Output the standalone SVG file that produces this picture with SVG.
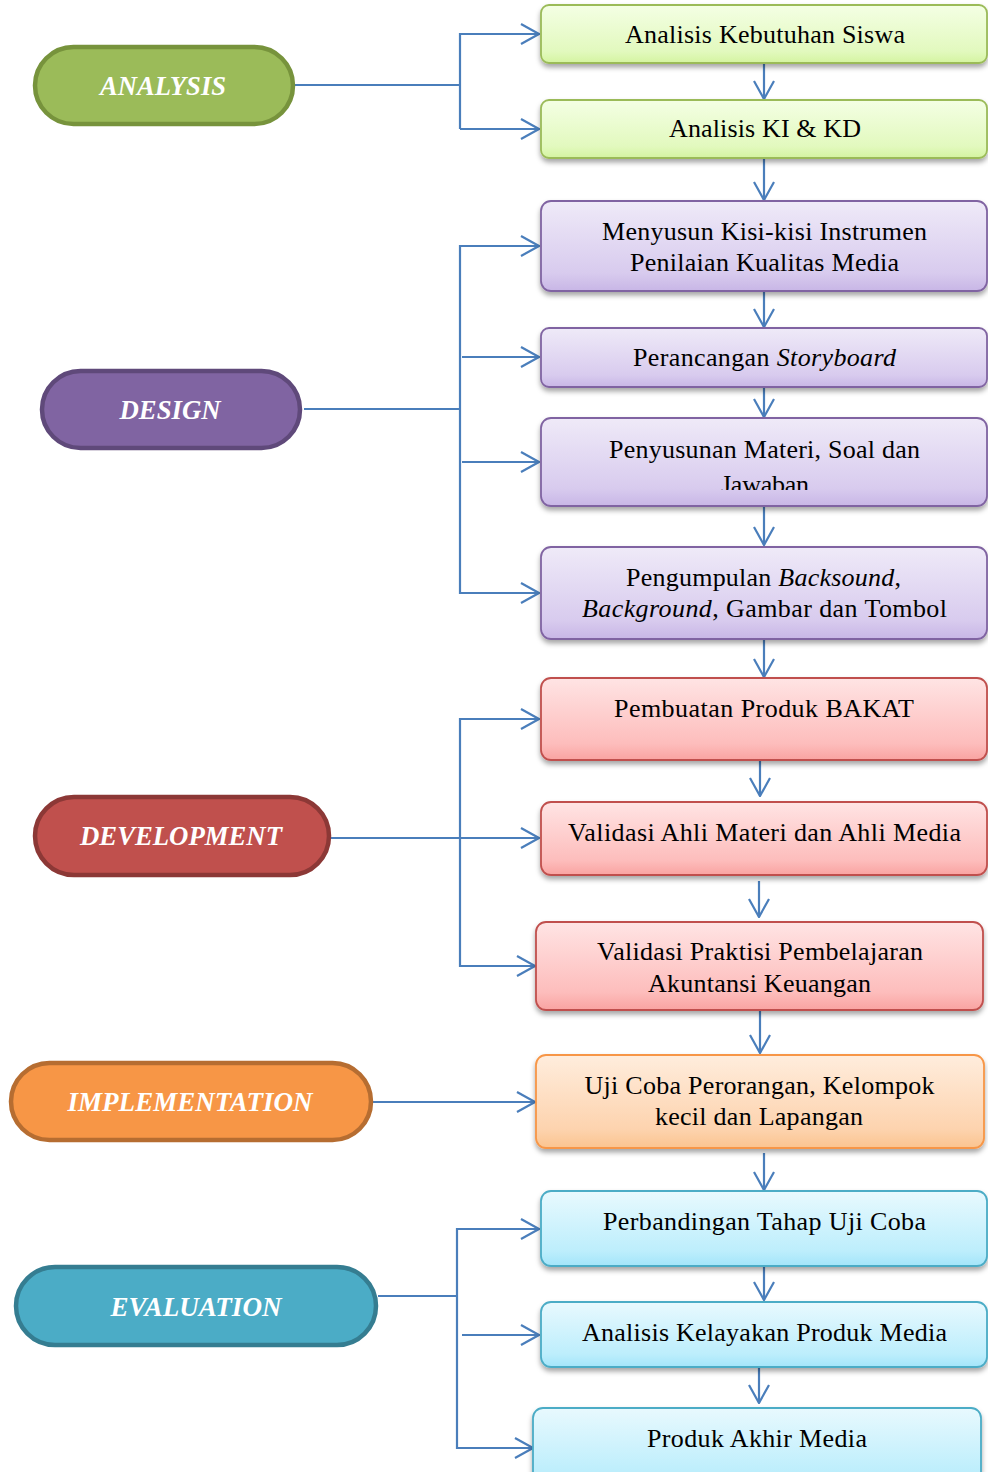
<svg xmlns="http://www.w3.org/2000/svg" width="988" height="1472" viewBox="0 0 988 1472">
<style>
.pill{stroke-width:4.5}
.pt{font-family:"Liberation Serif","Times New Roman",serif;font-size:26.5px;font-weight:bold;font-style:italic;fill:#ffffff;text-anchor:middle}
.bt{font-family:"Liberation Serif","Times New Roman",serif;font-size:26px;fill:#000000;text-anchor:middle}
.it{font-style:italic}
.box{stroke-width:1.8;filter:url(#sh)}
.ln{fill:none;stroke:#4A7EBB;stroke-width:2.2}
.ar{fill:none;stroke:#4A7EBB;stroke-width:2.2;marker-end:url(#ah)}
</style>
<defs>
<filter id="sh" x="-5%" y="-20%" width="110%" height="150%">
<feDropShadow dx="0" dy="3.5" stdDeviation="2.5" flood-color="#000000" flood-opacity="0.35"/>
</filter>
<marker id="ah" viewBox="0 0 20 22" refX="19" refY="11" markerWidth="20" markerHeight="22" markerUnits="userSpaceOnUse" orient="auto">
<path d="M1,1 L19,11 L1,21" fill="none" stroke="#4A7EBB" stroke-width="2.2"/>
</marker>
<linearGradient id="gG" x1="0" y1="0" x2="0" y2="1"><stop offset="0" stop-color="#F4FFE4"/><stop offset="0.8" stop-color="#E2F9BE"/><stop offset="1" stop-color="#D4F4A0"/></linearGradient>
<linearGradient id="gP" x1="0" y1="0" x2="0" y2="1"><stop offset="0" stop-color="#EFEAF8"/><stop offset="0.8" stop-color="#D8CBEE"/><stop offset="1" stop-color="#C8B6E6"/></linearGradient>
<linearGradient id="gR" x1="0" y1="0" x2="0" y2="1"><stop offset="0" stop-color="#FFE4E4"/><stop offset="0.8" stop-color="#FDBDBC"/><stop offset="1" stop-color="#F9A3A1"/></linearGradient>
<linearGradient id="gO" x1="0" y1="0" x2="0" y2="1"><stop offset="0" stop-color="#FFEDDD"/><stop offset="0.8" stop-color="#FDD3AE"/><stop offset="1" stop-color="#FBC48F"/></linearGradient>
<linearGradient id="gB" x1="0" y1="0" x2="0" y2="1"><stop offset="0" stop-color="#E8F9FE"/><stop offset="0.8" stop-color="#BDEEFC"/><stop offset="1" stop-color="#A3E5FA"/></linearGradient>
<clipPath id="clipJ"><rect x="541" y="418" width="447" height="72"/></clipPath>
</defs>

<g id="connectors">
<path class="ln" d="M295,85 H460 M460,33 V129"/>
<path class="ar" d="M460,34 H539"/>
<path class="ar" d="M460,129 H539"/>
<path class="ar" d="M764,63 V99"/>
<path class="ar" d="M764,158 V200"/>
<path class="ln" d="M304,409 H460 M460,245 V594"/>
<path class="ar" d="M460,246 H539"/>
<path class="ar" d="M462,357 H539"/>
<path class="ar" d="M462,462 H539"/>
<path class="ar" d="M460,593 H539"/>
<path class="ar" d="M764,291 V327"/>
<path class="ar" d="M764,387 V417"/>
<path class="ar" d="M764,506 V545"/>
<path class="ar" d="M764,639 V677"/>
<path class="ln" d="M460,718 V967"/>
<path class="ar" d="M331,838 H539"/>
<path class="ar" d="M460,719 H539"/>
<path class="ar" d="M460,966 H535"/>
<path class="ar" d="M760,760 V796"/>
<path class="ar" d="M759,881 V917"/>
<path class="ar" d="M760,1010 V1053"/>
<path class="ar" d="M373,1102 H535"/>
<path class="ar" d="M764,1153 V1190"/>
<path class="ln" d="M378,1296 H457 M457,1228 V1449"/>
<path class="ar" d="M457,1229 H539"/>
<path class="ar" d="M462,1335 H539"/>
<path class="ar" d="M457,1448 H533"/>
<path class="ar" d="M764,1266 V1300"/>
<path class="ar" d="M759,1368 V1403"/>
</g>

<g id="analysis">
<rect class="pill" x="35" y="47" width="258" height="77" rx="38.5" fill="#9BBB59" stroke="#77933C"/>
<text class="pt" x="163" y="95" textLength="126" lengthAdjust="spacingAndGlyphs">ANALYSIS</text>
</g>
<g id="design">
<rect class="pill" x="42" y="371" width="258" height="77" rx="38.5" fill="#8064A2" stroke="#5F497A"/>
<text class="pt" x="170" y="419" textLength="101" lengthAdjust="spacingAndGlyphs">DESIGN</text>
</g>
<g id="development">
<rect class="pill" x="35" y="797" width="294" height="78" rx="39" fill="#C0504D" stroke="#8C3836"/>
<text class="pt" x="181" y="845" textLength="202" lengthAdjust="spacingAndGlyphs">DEVELOPMENT</text>
</g>
<g id="implementation">
<rect class="pill" x="11" y="1063" width="360" height="77" rx="38.5" fill="#F79646" stroke="#B66D31"/>
<text class="pt" x="190" y="1111" textLength="245" lengthAdjust="spacingAndGlyphs">IMPLEMENTATION</text>
</g>
<g id="evaluation">
<rect class="pill" x="16" y="1267" width="360" height="78" rx="39" fill="#4BACC6" stroke="#357D91"/>
<text class="pt" x="196" y="1316" textLength="171" lengthAdjust="spacingAndGlyphs">EVALUATION</text>
</g>

<g id="n1">
<rect class="box" x="541" y="5" width="446" height="58" rx="8" fill="url(#gG)" stroke="#9BBB59"/>
<text class="bt" x="765" y="43" textLength="280" lengthAdjust="spacing">Analisis Kebutuhan Siswa</text>
</g>
<g id="n2">
<rect class="box" x="541" y="100" width="446" height="58" rx="8" fill="url(#gG)" stroke="#9BBB59"/>
<text class="bt" x="765" y="137" textLength="192" lengthAdjust="spacing">Analisis KI &amp; KD</text>
</g>
<g id="n3">
<rect class="box" x="541" y="201" width="446" height="90" rx="10" fill="url(#gP)" stroke="#8064A2"/>
<text class="bt" x="764.5" y="240" textLength="325" lengthAdjust="spacing">Menyusun Kisi-kisi Instrumen</text>
<text class="bt" x="764.5" y="271" textLength="269" lengthAdjust="spacing">Penilaian Kualitas Media</text>
</g>
<g id="n4">
<rect class="box" x="541" y="328" width="446" height="59" rx="8" fill="url(#gP)" stroke="#8064A2"/>
<text class="bt" x="764.5" y="366" textLength="263" lengthAdjust="spacing">Perancangan <tspan class="it">Storyboard</tspan></text>
</g>
<g id="n5">
<rect class="box" x="541" y="418" width="446" height="88" rx="10" fill="url(#gP)" stroke="#8064A2"/>
<text class="bt" x="764.5" y="458" textLength="311" lengthAdjust="spacing">Penyusunan Materi, Soal dan</text>
<text class="bt" x="765" y="493" textLength="88" lengthAdjust="spacing" clip-path="url(#clipJ)">Jawaban</text>
</g>
<g id="n6">
<rect class="box" x="541" y="547" width="446" height="92" rx="10" fill="url(#gP)" stroke="#8064A2"/>
<text class="bt" x="763.5" y="586" textLength="275" lengthAdjust="spacing">Pengumpulan <tspan class="it">Backsound</tspan>,</text>
<text class="bt" x="764.5" y="617" textLength="365" lengthAdjust="spacing"><tspan class="it">Background</tspan>, Gambar dan Tombol</text>
</g>
<g id="n7">
<rect class="box" x="541" y="678" width="446" height="82" rx="10" fill="url(#gR)" stroke="#C0504D"/>
<text class="bt" x="764" y="717" textLength="300" lengthAdjust="spacing">Pembuatan Produk BAKAT</text>
</g>
<g id="n8">
<rect class="box" x="541" y="802" width="446" height="73" rx="10" fill="url(#gR)" stroke="#C0504D"/>
<text class="bt" x="764.5" y="841" textLength="393" lengthAdjust="spacing">Validasi Ahli Materi dan Ahli Media</text>
</g>
<g id="n9">
<rect class="box" x="536" y="922" width="447" height="88" rx="10" fill="url(#gR)" stroke="#C0504D"/>
<text class="bt" x="760" y="960" textLength="326" lengthAdjust="spacing">Validasi Praktisi Pembelajaran</text>
<text class="bt" x="759.5" y="992" textLength="223" lengthAdjust="spacing">Akuntansi Keuangan</text>
</g>
<g id="n10">
<rect class="box" x="536" y="1055" width="448" height="93" rx="10" fill="url(#gO)" stroke="#F79646"/>
<text class="bt" x="759.5" y="1094" textLength="350" lengthAdjust="spacing">Uji Coba Perorangan, Kelompok</text>
<text class="bt" x="759" y="1125" textLength="208" lengthAdjust="spacing">kecil dan Lapangan</text>
</g>
<g id="n11">
<rect class="box" x="541" y="1191" width="446" height="75" rx="10" fill="url(#gB)" stroke="#4BACC6"/>
<text class="bt" x="764.5" y="1230" textLength="323" lengthAdjust="spacing">Perbandingan Tahap Uji Coba</text>
</g>
<g id="n12">
<rect class="box" x="541" y="1302" width="446" height="65" rx="10" fill="url(#gB)" stroke="#4BACC6"/>
<text class="bt" x="764.5" y="1341" textLength="365" lengthAdjust="spacing">Analisis Kelayakan Produk Media</text>
</g>
<g id="n13">
<rect class="box" x="533" y="1408" width="448" height="80" rx="10" fill="url(#gB)" stroke="#4BACC6"/>
<text class="bt" x="757" y="1447" textLength="220" lengthAdjust="spacing">Produk Akhir Media</text>
</g>
</svg>
